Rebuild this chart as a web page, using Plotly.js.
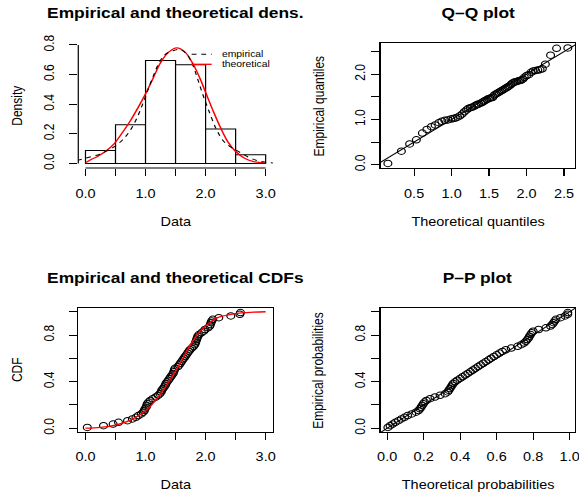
<!DOCTYPE html>
<html><head><meta charset="utf-8">
<script src="https://cdn.plot.ly/plotly-3.0.1.min.js"></script>
<style>
html,body{margin:0;padding:0;background:#fff;overflow:hidden;}
#wrap{width:579px;height:498px;overflow:hidden;}
#plot{width:480px;height:498px;transform:scaleX(1.20625);transform-origin:0 0;}
</style></head><body><div id="wrap"><div id="plot"></div></div>
<script>
// ---- data (sorted observations) ----
const sortedData = [0.03,0.30,0.46,0.55,0.70,0.78,0.84,0.88,0.93,0.96,0.98,0.99,
  1.01,1.02,1.03,1.05,1.08,1.12,1.17,1.21,1.24,1.26,1.27,1.29,
  1.31,1.33,1.34,1.36,1.38,1.40,1.42,1.44,1.46,1.47,1.48,1.49,
  1.54,1.56,1.58,1.60,1.62,1.64,1.66,1.68,1.70,1.72,1.74,1.77,1.80,1.82,1.83,1.84,1.85,1.86,1.87,1.89,1.93,1.97,1.99,
  2.04,2.07,2.08,2.09,2.10,2.12,2.22,2.42,2.57,2.58];
// theoretical quantiles (Q-Q x values)
const theoQuantiles = [0.15,0.33,0.44,0.53,0.61,0.67,0.73,0.78,0.83,0.87,
  0.91,0.95,0.99,1.02,1.05,1.08,1.11,1.14,1.17,1.20,
  1.22,1.25,1.27,1.30,1.32,1.34,1.36,1.39,1.41,1.43,
  1.45,1.47,1.49,1.51,1.53,1.55,1.57,1.59,1.61,1.63,
  1.65,1.67,1.69,1.71,1.73,1.75,1.77,1.79,1.81,1.83,
  1.85,1.87,1.89,1.91,1.93,1.95,1.97,2.00,2.03,2.06,
  2.09,2.12,2.15,2.18,2.21,2.25,2.32,2.40,2.55];
// theoretical probabilities (P-P x values)
const theoProbs = [0.004,0.016,0.030,0.045,0.062,0.078,0.095,0.112,0.135,0.158,
  0.172,0.180,0.186,0.192,0.198,0.205,0.215,0.235,0.262,0.290,
  0.318,0.332,0.338,0.344,0.350,0.356,0.362,0.372,0.385,0.400,
  0.413,0.428,0.442,0.456,0.470,0.484,0.498,0.512,0.527,0.541,
  0.556,0.570,0.585,0.600,0.616,0.632,0.650,0.680,0.715,0.735,
  0.750,0.760,0.768,0.775,0.780,0.786,0.792,0.800,0.830,0.870,
  0.895,0.905,0.912,0.918,0.925,0.950,0.975,0.9895,0.990];
// theoretical density curve
const densX = [0,0.1,0.2,0.34,0.48,0.6,0.75,0.88,1.0,1.12,1.25,1.38,1.52,1.65,1.78,1.9,2.0,2.12,2.25,2.38,2.5,2.65,2.8,3.0];
const densY = [0.004,0.028,0.047,0.083,0.134,0.2,0.29,0.38,0.47,0.57,0.68,0.75,0.78,0.755,0.68,0.58,0.48,0.36,0.24,0.14,0.08,0.035,0.012,0.002];
// empirical (kernel) density curve
const kdeX = [-0.3,-0.12,0.0,0.12,0.24,0.36,0.49,0.62,0.74,0.86,0.98,1.1,1.24,1.34,1.45,1.57,1.68,1.77,1.86,1.95,2.05,2.18,2.3,2.42,2.57,2.7,2.85,3.0,3.15];
const kdeY = [0.012,0.022,0.035,0.048,0.062,0.085,0.115,0.16,0.22,0.31,0.43,0.56,0.69,0.74,0.76,0.77,0.74,0.68,0.58,0.47,0.36,0.23,0.15,0.11,0.075,0.045,0.02,0.008,0.002];
// theoretical CDF curve
const cdfX = [0,0.25,0.5,0.75,1.0,1.15,1.3,1.45,1.6,1.75,1.9,2.05,2.2,2.4,2.6,2.8,3.0];
const cdfY = [0.001,0.008,0.027,0.07,0.15,0.23,0.33,0.45,0.58,0.72,0.83,0.90,0.95,0.975,0.99,0.997,1.0];
// tick labels
const densXTicks = [0,0.5,1,1.5,2,2.5,3], densXText = ['0.0','','1.0','','2.0','','3.0'];
const densYTicks = [0,0.2,0.4,0.6,0.8], densYText = ['0.0','0.2','0.4','0.6','0.8'];
const qqXTicks = [0.5,1,1.5,2,2.5], qqXText = ['0.5','1.0','1.5','2.0','2.5'];
const qqYTicks = [0,0.5,1,1.5,2,2.5], qqYText = ['0.0','','1.0','','2.0',''];
const probTicks = [0,0.2,0.4,0.6,0.8,1], probYText = ['0.0','','0.4','','0.8',''];
const probXText = ['0.0','0.2','0.4','0.6','0.8','1.0'];

const n = sortedData.length;
const empProb = sortedData.map((_, i) => (i + 0.5) / n);
function ext(a){const lo=Math.min(...a),hi=Math.max(...a),d=(hi-lo)*0.04;return [lo-d,hi+d];}

const FONT = '"Liberation Sans", Arial, Helvetica, sans-serif';
const W = 480, H = 498;
const colL = [64.9/W, 226.2/W], colR = [315.6/W, 476.7/W];
const rowT = [1-168/H, 1-43.3/H], rowB = [1-432/H, 1-308/H];

const xr1 = ext([0,3]), yr1 = ext([0, Math.max(...densY)]);
const xr2 = ext(theoQuantiles), yr2 = ext(sortedData);
const xr3 = ext([0,3]), yr3 = ext(empProb);
const xr4 = ext(theoProbs), yr4 = ext(empProb);

const circ = {symbol:'circle-open', size:6.5, color:'black', line:{width:1, color:'black'}};
const traces = [
  {type:'histogram', x:sortedData, xbins:{start:0,end:3,size:0.5}, histnorm:'probability density', autobinx:false,
   marker:{color:'white', line:{color:'black', width:1}}, xaxis:'x', yaxis:'y'},
  {type:'scatter', mode:'lines', x:densX, y:densY, line:{color:'#ff0000', width:1.3, shape:'spline'}, xaxis:'x', yaxis:'y'},
  {type:'scatter', mode:'lines', x:kdeX, y:kdeY, line:{color:'black', width:1, dash:'4px,4px', shape:'spline'}, xaxis:'x', yaxis:'y'},
  {type:'scatter', mode:'lines', x:[Math.min(xr2[0],yr2[0]), Math.max(xr2[1],yr2[1])], y:[Math.min(xr2[0],yr2[0]), Math.max(xr2[1],yr2[1])],
   line:{color:'black', width:1}, xaxis:'x2', yaxis:'y2'},
  {type:'scatter', mode:'markers', x:theoQuantiles, y:sortedData, marker:circ, xaxis:'x2', yaxis:'y2'},
  {type:'scatter', mode:'markers', x:sortedData, y:empProb, marker:circ, xaxis:'x3', yaxis:'y3'},
  {type:'scatter', mode:'lines', x:cdfX, y:cdfY, line:{color:'#ff0000', width:1.3, shape:'spline'}, xaxis:'x3', yaxis:'y3'},
  {type:'scatter', mode:'lines', x:[-1,2], y:[-1,2], line:{color:'black', width:1}, xaxis:'x4', yaxis:'y4'},
  {type:'scatter', mode:'markers', x:theoProbs, y:empProb, marker:circ, xaxis:'x4', yaxis:'y4'}
];

function ax(domain, range, tv, tt, extra){
  return Object.assign({domain, range, tickmode:'array', tickvals:tv, ticktext:tt, ticks:'outside', ticklen:7,
    tickwidth:1, tickcolor:'black', showgrid:false, zeroline:false, fixedrange:true, ticklabeloverflow:'allow',
    tickfont:{family:FONT, size:12, color:'black'}}, extra||{});
}
const boxX = {showline:true, linecolor:'black', linewidth:1, mirror:true};
const layout = {
  width:W, height:H, margin:{l:0,r:0,t:0,b:0}, showlegend:false,
  paper_bgcolor:'white', plot_bgcolor:'white', bargap:0,
  font:{family:FONT, size:12, color:'black'},
  xaxis: ax(colL, xr1, densXTicks, densXText, {anchor:'y', ticklabelstandoff:8}),
  yaxis: ax(rowT, yr1, densYTicks, densYText, {anchor:'x', tickangle:-90, ticklabelstandoff:7}),
  xaxis2: ax(colR, xr2, qqXTicks, qqXText, Object.assign({anchor:'y2', ticklabelstandoff:8}, boxX)),
  yaxis2: ax(rowT, yr2, qqYTicks, qqYText, Object.assign({anchor:'x2', tickangle:-90, ticklabelstandoff:0}, boxX)),
  xaxis3: ax(colL, xr3, densXTicks, densXText, Object.assign({anchor:'y3', ticklabelstandoff:7}, boxX)),
  yaxis3: ax(rowB, yr3, probTicks, probYText, Object.assign({anchor:'x3', tickangle:-90, ticklabelstandoff:7}, boxX)),
  xaxis4: ax(colR, xr4, probTicks, probXText, Object.assign({anchor:'y4', ticklabelstandoff:7}, boxX)),
  yaxis4: ax(rowB, yr4, probTicks, probYText, Object.assign({anchor:'x4', tickangle:-90, ticklabelstandoff:0}, boxX)),
  shapes:[], annotations:[]
};
// panel-1 axis lines (R style: from first to last tick)
function px(v, r, d){return d[0] + (v - r[0])/(r[1]-r[0])*(d[1]-d[0]);}
layout.shapes.push({type:'line', xref:'paper', yref:'paper', x0:px(0,xr1,colL), x1:px(3,xr1,colL), y0:rowT[0], y1:rowT[0], line:{color:'black', width:1}});
layout.shapes.push({type:'line', xref:'paper', yref:'paper', x0:colL[0], x1:colL[0], y0:px(0,yr1,rowT), y1:px(0.8,yr1,rowT), line:{color:'black', width:1}});
// legend
const legY1 = 1-54.3/H, legY2 = 1-64.3/H;
layout.shapes.push({type:'line', xref:'paper', yref:'paper', x0:158.9/W, x1:175.5/W, y0:legY1, y1:legY1, line:{color:'black', width:1, dash:'4px,4px'}});
layout.shapes.push({type:'line', xref:'paper', yref:'paper', x0:158.9/W, x1:175.5/W, y0:legY2, y1:legY2, line:{color:'#ff0000', width:1.3}});
function ann(text, x, y, opts){ layout.annotations.push(Object.assign({text, x, y, xref:'paper', yref:'paper', showarrow:false,
  xanchor:'center', yanchor:'middle', font:{family:FONT, size:12, color:'black'}}, opts||{})); }
ann('empirical', 182.4/W, legY1, {xanchor:'left', font:{family:FONT, size:8.6, color:'black'}});
ann('theoretical', 182.4/W, legY2, {xanchor:'left', font:{family:FONT, size:8.6, color:'black'}});
// titles
const tfont = {family:FONT, size:14.4, color:'black', weight:'bold'};
const cL = (colL[0]+colL[1])/2, cR = (colR[0]+colR[1])/2;
ann('Empirical and theoretical dens.', cL, 1-13.3/H, {font:tfont});
ann('Q\u2013Q plot', cR, 1-13.3/H, {font:tfont});
ann('Empirical and theoretical CDFs', cL, 1-277.5/H, {font:tfont});
ann('P\u2013P plot', cR, 1-277.5/H, {font:tfont});
// axis titles
ann('Data', cL, 1-221.5/H);
ann('Theoretical quantiles', cR, 1-221.5/H);
ann('Data', cL, 1-485/H);
ann('Theoretical probabilities', cR, 1-485/H);
ann('Density', 14.1/W, (rowT[0]+rowT[1])/2, {textangle:-90});
ann('Empirical quantiles', 263.9/W, (rowT[0]+rowT[1])/2, {textangle:-90});
ann('CDF', 14.1/W, (rowB[0]+rowB[1])/2, {textangle:-90});
ann('Empirical probabilities', 263.9/W, (rowB[0]+rowB[1])/2, {textangle:-90});

Plotly.newPlot('plot', traces, layout, {staticPlot:true, displayModeBar:false});
</script></body></html>
